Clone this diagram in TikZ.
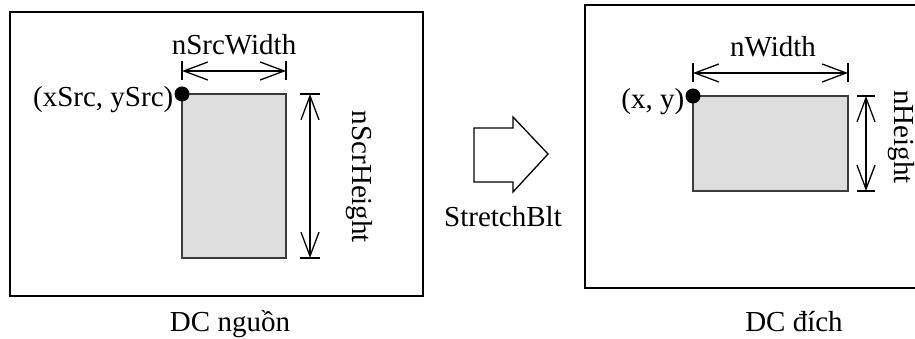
\documentclass[tikz,border=0pt]{standalone}
\usepackage{fontspec}
\setmainfont{Liberation Serif}
\usepackage{xcolor}
\usetikzlibrary{arrows.meta}

\begin{document}
\begin{tikzpicture}[x=1pt,y=1pt,
  txt/.style={inner sep=0pt, outer sep=0pt, font=\fontsize{29}{34}\selectfont},
  dcbox/.style={draw=black, line width=1.6pt},
  bitmap/.style={draw=rectColor, fill=fillColor, line width=1.2pt, inner sep=0pt, outer sep=0pt, anchor=north west},
  corner/.style={circle, fill=black, inner sep=0pt, minimum size=15pt},
  dimline/.style={line width=1.3pt, {Straight Barb[length=24pt,width=18pt,line width=1.3pt]}-{Straight Barb[length=24pt,width=18pt,line width=1.3pt]}},
  tickmark/.style={line width=1.3pt}]
\definecolor{fillColor}{RGB}{221,221,221}
\definecolor{rectColor}{RGB}{60,60,60}
\path[use as bounding box] (0,0) rectangle (915,339);
\begin{scope}
\clip (0,0) rectangle (915,339);

% source DC
\draw[dcbox] (10,43) rectangle (423,327);
\node[bitmap, minimum width=104pt, minimum height=164pt] (src) at (182,245) {};
\node[corner] (srcpt) at (src.north west) {};
\node[txt, anchor=east] (srclbl) at ([xshift=-1pt,yshift=-6pt]srcpt.west) {(xSrc, ySrc)};

\coordinate (sw1) at ([yshift=23pt]src.north west);
\coordinate (sw2) at ([yshift=23pt]src.north east);
\draw[tickmark] ([yshift=-9pt]sw1) -- ([yshift=10pt]sw1);
\draw[tickmark] ([yshift=-9pt]sw2) -- ([yshift=10pt]sw2);
\draw[dimline] (sw1) -- (sw2);
\node[txt] (srcw) at (234,294) {nSrcWidth};

\coordinate (sh1) at ([xshift=24pt]src.north east);
\coordinate (sh2) at ([xshift=24pt]src.south east);
\draw[tickmark] ([xshift=-10pt]sh1) -- ([xshift=10pt]sh1);
\draw[tickmark] ([xshift=-10pt]sh2) -- ([xshift=10pt]sh2);
\draw[dimline] (sh1) -- (sh2);
\node[txt, rotate=-90] (srch) at (359,162) {nScrHeight};

\node[txt, anchor=base] (srcname) at (230,7) {DC nguồn};

% block arrow
\draw[line width=1.3pt, line join=miter] (474,157) -- (474,211) -- (513,211) -- (513,222)
  -- (548,185) -- (513,147) -- (513,157) -- cycle;
\node[txt] (op) at (503,122) {StretchBlt};

% destination DC
\draw[dcbox] (585,51) rectangle (930,334);
\node[bitmap, minimum width=155pt, minimum height=95pt] (dst) at (693,243) {};
\node[corner] (dstpt) at (dst.north west) {};
\node[txt, anchor=east] (dstlbl) at ([xshift=-1pt,yshift=-6pt]dstpt.west) {(x, y)};

\coordinate (dw1) at ([yshift=23pt]dst.north west);
\coordinate (dw2) at ([yshift=23pt]dst.north east);
\draw[tickmark] ([yshift=-9pt]dw1) -- ([yshift=10pt]dw1);
\draw[tickmark] ([yshift=-9pt]dw2) -- ([yshift=10pt]dw2);
\draw[dimline] (dw1) -- (dw2);
\node[txt] (dstw) at (773,292) {nWidth};

\coordinate (dh1) at ([xshift=18pt]dst.north east);
\coordinate (dh2) at ([xshift=18pt]dst.south east);
\draw[tickmark] ([xshift=-9pt]dh1) -- ([xshift=9pt]dh1);
\draw[tickmark] ([xshift=-9pt]dh2) -- ([xshift=9pt]dh2);
\draw[dimline] (dh1) -- (dh2);
\node[txt, rotate=-90] (dsth) at (901,202) {nHeight};

\node[txt, anchor=base] (dstname) at (794,7) {DC đích};
\end{scope}
\end{tikzpicture}
\end{document}
